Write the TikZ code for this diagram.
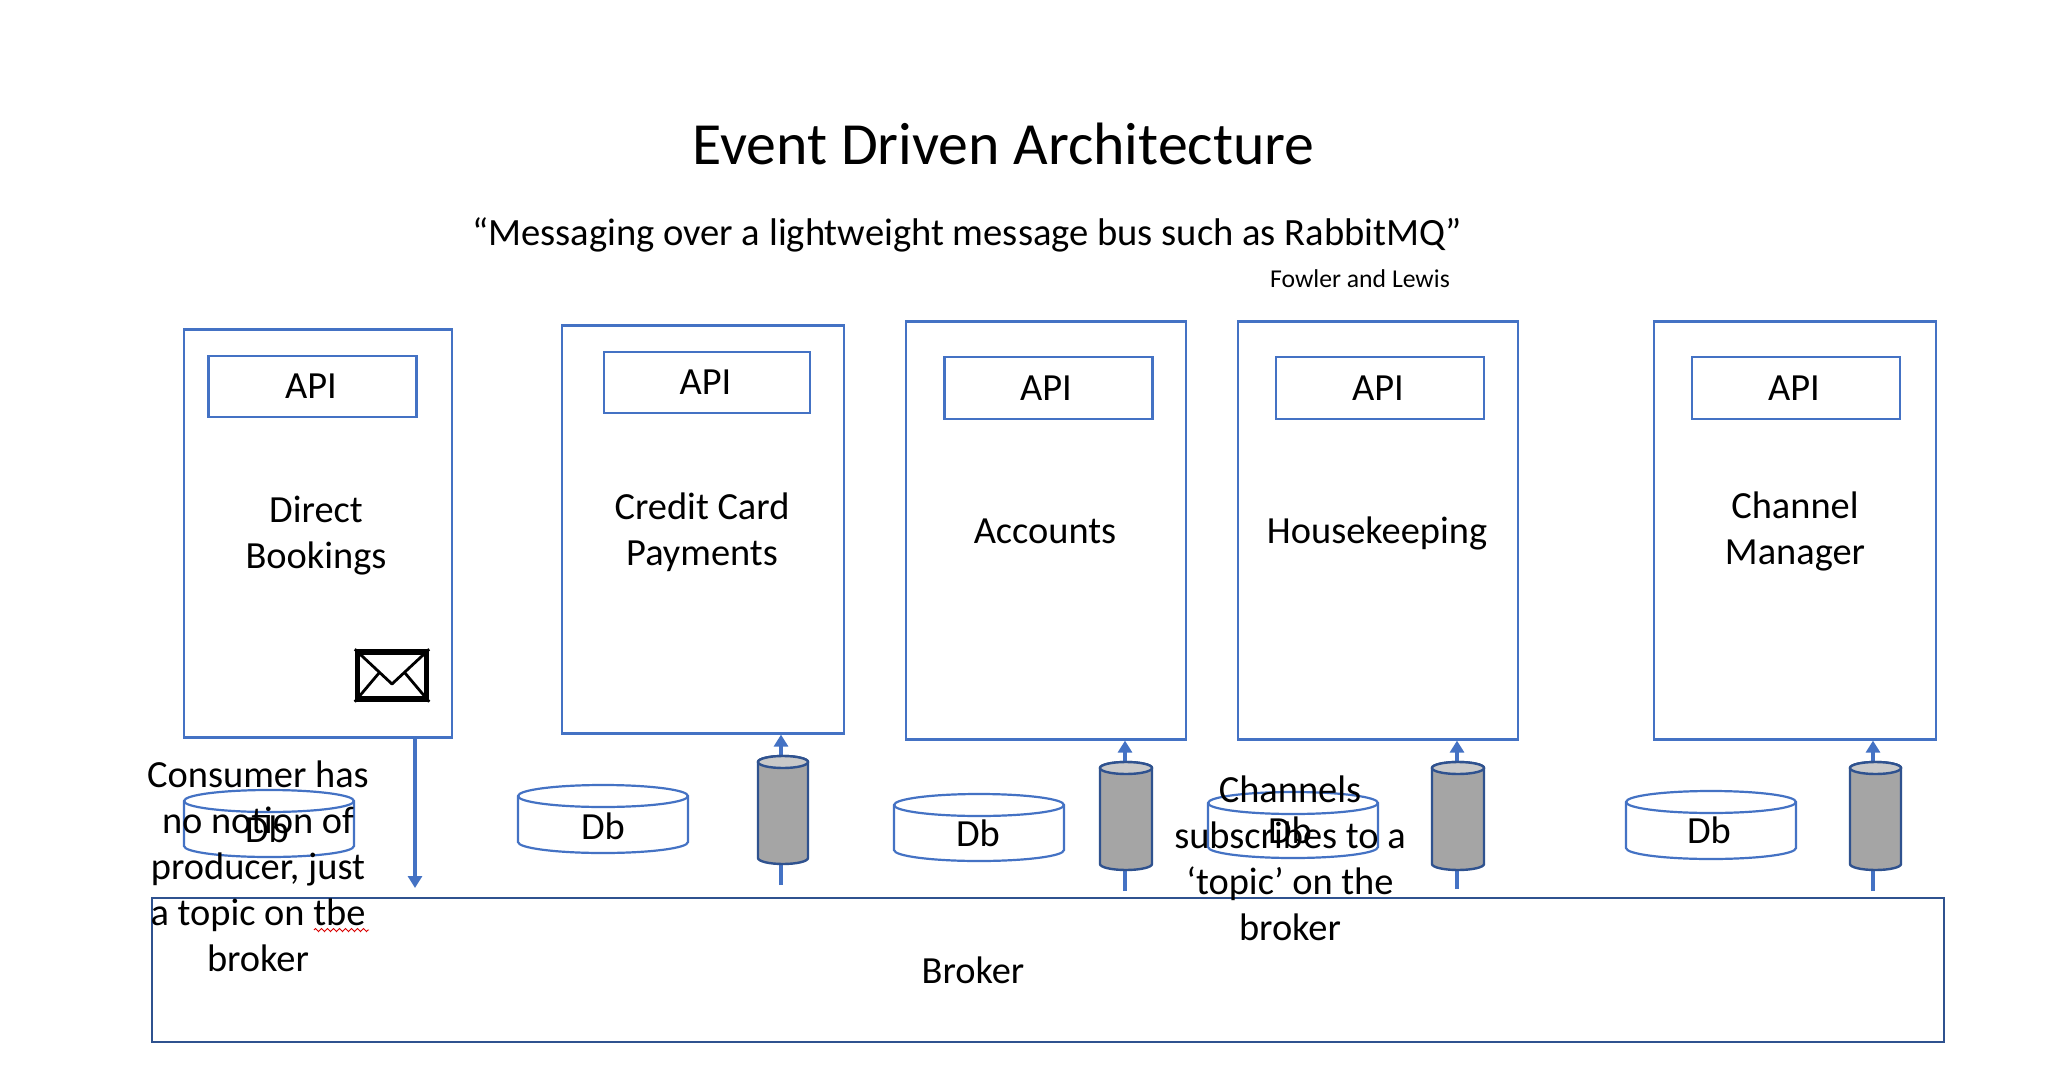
\documentclass[tikz,border=0pt]{standalone}
\usepackage{fontspec}
\setmainfont{Carlito}
\usetikzlibrary{arrows.meta,decorations.pathmorphing}
\definecolor{msblue}{HTML}{4472C4}
\definecolor{msdark}{HTML}{2F528F}
\definecolor{cylgrey}{HTML}{A5A5A5}
\definecolor{cyltop}{HTML}{C9C9C9}
\tikzset{
  svcbox/.style={draw=msblue,line width=2.2pt,fill=white,inner sep=0pt},
  brokerbox/.style={draw=msdark,line width=2.2pt,fill=white,inner sep=0pt},
  apibox/.style={draw=msblue,line width=2.2pt,fill=white,inner sep=0pt,font=\fontsize{38.4}{46}\selectfont},
  lbl/.style={inner sep=0pt,align=center,font=\fontsize{38.4}{46}\selectfont,text=black},
  flow/.style={draw=msblue,line width=4.5pt,-{Triangle[length=12pt,width=14pt]}},
  dbline/.style={draw=msblue,line width=2.2pt,fill=white},
  cylline/.style={draw=msdark,line width=2.4pt},
}
% x-left, x-right, y-top, y-bottom, end depth
\newcommand{\dbdrum}[5]{%
  \path[dbline] (#1,#3+#5) arc[start angle=180,end angle=360,x radius={(#2-#1)/2},y radius=#5]
     -- (#2,#4-#5) arc[start angle=0,end angle=180,x radius={(#2-#1)/2},y radius=#5] -- cycle;
  \path[dbline,fill=none] (#1,#3+#5) arc[start angle=180,end angle=0,x radius={(#2-#1)/2},y radius=#5];
}
\newcommand{\msgcyl}[5]{%
  \path[cylline,fill=cylgrey] (#1,#3+#5) arc[start angle=180,end angle=360,x radius={(#2-#1)/2},y radius=#5]
     -- (#2,#4-#5) arc[start angle=0,end angle=180,x radius={(#2-#1)/2},y radius=#5] -- cycle;
  \path[cylline,fill=cyltop] (#1,#3+#5) arc[start angle=180,end angle=0,x radius={(#2-#1)/2},y radius=#5]
     arc[start angle=0,end angle=-180,x radius={(#2-#1)/2},y radius=#5] -- cycle;
}
\begin{document}
\begin{tikzpicture}[x=1pt,y=-1pt]
\useasboundingbox (0,0) rectangle (2054,1070);
\fill[white] (0,0) rectangle (2054,1070);

\node[lbl,font=\fontsize{59.8}{66}\selectfont] (title) at (1003.5,143.5) {Event Driven Architecture};
\node[lbl,font=\fontsize{38.6}{46}\selectfont] (quote) at (967,235) {“Messaging over a lightweight message bus such as RabbitMQ”};
\node[lbl,font=\fontsize{25.7}{30}\selectfont] (cite) at (1360,279) {Fowler and Lewis};

\node[svcbox,minimum width=268pt,minimum height=408pt] (box1) at (318,533.5) {};
\node[svcbox,minimum width=282pt,minimum height=408pt] (box2) at (703,529.5) {};
\node[svcbox,minimum width=280pt,minimum height=418pt] (box3) at (1046,530.5) {};
\node[svcbox,minimum width=280pt,minimum height=418pt] (box4) at (1378,530.5) {};
\node[svcbox,minimum width=282pt,minimum height=418pt] (box5) at (1795,530.5) {};

\node[apibox,minimum width=208pt,minimum height=61pt] (api1) at (312.5,386.5) {\kern-3pt API};
\node[apibox,minimum width=206pt,minimum height=61pt] (api2) at (707,382.5) {\kern-3pt API};
\node[apibox,minimum width=208pt,minimum height=62pt] (api3) at (1048.5,388) {\kern-5pt API};
\node[apibox,minimum width=208pt,minimum height=62pt] (api4) at (1380,388) {\kern-4pt API};
\node[apibox,minimum width=208pt,minimum height=62pt] (api5) at (1796,388) {\kern-4pt API};

\node[lbl] (name1) at (316,536) {Direct\\Bookings};
\node[lbl] (name2) at (702,532) {Credit Card\\Payments};
\node[lbl] (name3) at (1045,531) {Accounts};
\node[lbl] (name4) at (1377,533) {Housekeeping};
\node[lbl] (name5) at (1795,531.5) {Channel\\Manager};

\node[brokerbox,minimum width=1792pt,minimum height=144pt] (broker) at (1048,970) {};
\node[lbl] (brokerlabel) at (973,970) {Broker};

% envelope
\node[draw=black,line width=5.5pt,fill=white,minimum width=69pt,minimum height=47pt,inner sep=0pt] (mail) at (392,675.5) {};
\draw[black,line width=2.8pt,line join=round] (mail.north west) -- (392,684) -- (mail.north east);
\draw[black,line width=2.8pt] (mail.south west) -- (379,673);
\draw[black,line width=2.8pt] (mail.south east) -- (405,673);

% flows
\coordinate (pubend) at (415,888);
\draw[flow] (pubend |- box1.south) -- (pubend);
\coordinate (sub2) at (781,885);
\coordinate (sub3) at (1125,891);
\coordinate (sub4) at (1457,889);
\coordinate (sub5) at (1873,891);
\draw[flow] (sub2) -- (sub2 |- box2.south);
\draw[flow] (sub3) -- (sub3 |- box3.south);
\draw[flow] (sub4) -- (sub4 |- box4.south);
\draw[flow] (sub5) -- (sub5 |- box5.south);

\msgcyl{758}{808}{756}{864}{6}
\msgcyl{1100}{1152}{762}{870}{6}
\msgcyl{1432}{1484}{762}{870}{6}
\msgcyl{1850}{1901}{762}{870}{6}

\dbdrum{184}{354}{790}{857}{11}
\dbdrum{518}{688}{785}{853}{11}
\dbdrum{894}{1064}{794}{861}{11}
\dbdrum{1208}{1378}{792}{858}{11}
\dbdrum{1626}{1796}{791}{859}{11}

\node[lbl] (db1) at (267,829) {Db};
\node[lbl] (db2) at (603,826) {Db};
\node[lbl] (db3) at (978,833) {Db};
\node[lbl] (db4) at (1290,830) {Db};
\node[lbl] (db5) at (1709,830) {Db};

\node[lbl] (consumer) at (258,866.5) {Consumer has\\no notion of\\producer, just\\a topic on tbe\\broker};
\node[lbl] (channels) at (1290,858.5) {Channels\\subscribes to a\\‘topic’ on the\\broker};

\draw[red!85!black,line width=0.9pt,decorate,decoration={zigzag,amplitude=1.6pt,segment length=6pt}] (314,930) -- (369,930);
\end{tikzpicture}
\end{document}
